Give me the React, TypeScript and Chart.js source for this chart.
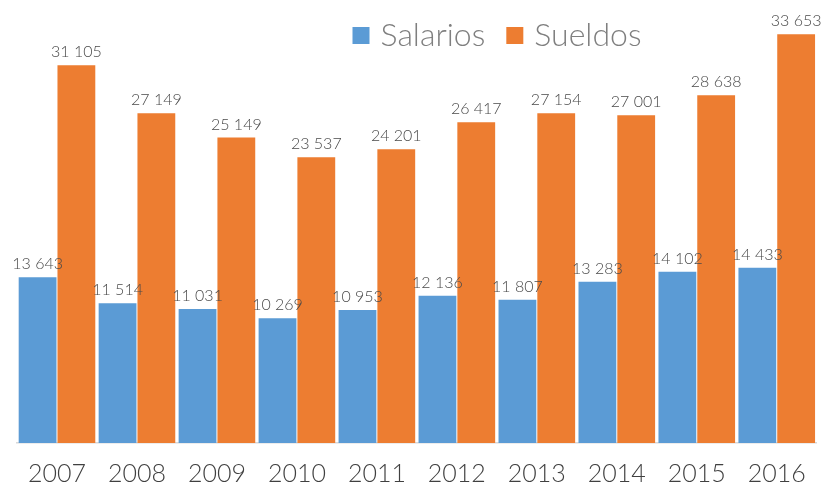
import React, { useEffect, useRef } from "react";
import { Chart, registerables } from "chart.js";

Chart.register(...registerables);

const years = ["2007", "2008", "2009", "2010", "2011", "2012", "2013", "2014", "2015", "2016"];
const salarios = [13643, 11514, 11031, 10269, 10953, 12136, 11807, 13283, 14102, 14433];
const sueldos = [31105, 27149, 25149, 23537, 24201, 26417, 27154, 27001, 28638, 33653];
const seriesNames = ["Salarios", "Sueldos"];
const seriesColors = ["#5B9BD5", "#ED7D31"];

const FONT = "Lato, 'Open Sans', sans-serif";

function fmt(v: number): string {
  return String(v).replace(/\B(?=(\d{3})+(?!\d))/g, " ");
}

const valueLabels = {
  id: "valueLabels",
  afterDatasetsDraw(chart: any) {
    const ctx = chart.ctx;
    ctx.save();
    ctx.font = `300 16px ${FONT}`;
    ctx.fillStyle = "#4A4A4A";
    ctx.textAlign = "center";
    ctx.textBaseline = "alphabetic";
    chart.data.datasets.forEach((ds: any, i: number) => {
      const meta = chart.getDatasetMeta(i);
      meta.data.forEach((el: any, j: number) => {
        ctx.fillText(fmt(ds.data[j]), el.x, el.y - 8);
      });
    });
    ctx.restore();
  },
};

const topLegend = {
  id: "topLegend",
  afterDraw(chart: any) {
    const ctx = chart.ctx;
    ctx.save();
    ctx.font = `300 32px ${FONT}`;
    const sq = 17;
    const gapSq = 11;
    const gapItem = 21;
    const widths = seriesNames.map((n) => ctx.measureText(n).width);
    const total = widths.reduce((a, w) => a + sq + gapSq + w, 0) + gapItem;
    let x = 497 - total / 2;
    const baseline = 46;
    seriesNames.forEach((n, i) => {
      ctx.fillStyle = seriesColors[i];
      ctx.fillRect(x, 27, sq, sq);
      x += sq + gapSq;
      ctx.fillStyle = "#7F7F7F";
      ctx.textBaseline = "alphabetic";
      ctx.textAlign = "left";
      ctx.fillText(n, x, baseline);
      x += widths[i] + gapItem;
    });
    ctx.restore();
  },
};

export default function App() {
  const ref = useRef<HTMLCanvasElement | null>(null);
  useEffect(() => {
    document.body.style.margin = "0";
    if (!ref.current) return;
    const chart = new Chart(ref.current, {
      type: "bar",
      data: {
        labels: years,
        datasets: [
          { label: seriesNames[0], data: salarios, backgroundColor: seriesColors[0] },
          { label: seriesNames[1], data: sueldos, backgroundColor: seriesColors[1] },
        ],
      },
      options: {
        responsive: false,
        animation: false,
        categoryPercentage: 0.97,
        barPercentage: 0.975,
        layout: { padding: { left: 17, right: 5, top: 18, bottom: 0 } },
        plugins: {
          legend: { display: false },
          tooltip: { enabled: false },
        },
        scales: {
          y: { display: false, min: 0, max: 35000 },
          x: {
            afterFit: (scale: any) => {
              scale.height = 42;
            },
            grid: { display: false, drawTicks: false },
            border: { display: true, color: "#D9D9D9", width: 1.5 },
            ticks: {
              color: "#404040",
              font: { family: FONT, size: 25, weight: "300" },
              padding: 16,
            },
          },
        },
      },
      plugins: [valueLabels, topLegend],
    } as any);
    return () => chart.destroy();
  }, []);
  return (
    <div style={{ width: 822, height: 485, background: "#fff" }}>
      <canvas ref={ref} width={822} height={485} />
    </div>
  );
}
